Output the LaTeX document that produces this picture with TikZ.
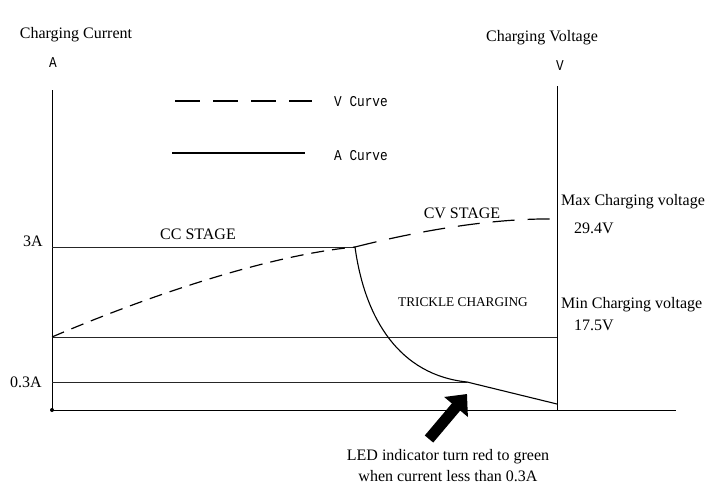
\documentclass[tikz,border=0pt]{standalone}
\usepackage{fontspec}
\setmainfont{Liberation Serif}
\newfontfamily\legendfont[FakeStretch=0.85]{Liberation Mono}
\usetikzlibrary{arrows.meta}
\tikzset{
  axisline/.style={line width=1pt,black},
  gridline/.style={line width=0.8pt,black!85},
  acurve/.style={line width=1.1pt,black},
  vcurve/.style={line width=1.2pt,black,dash pattern=on 13pt off 8pt},
  lbl/.style={inner sep=0pt,font=\fontsize{16}{18}\selectfont},
  small/.style={inner sep=0pt,font=\fontsize{13.3}{15}\selectfont},
  mono/.style={inner sep=0pt,font=\legendfont\fontsize{15}{16}\selectfont},
  bigarrow/.style={line width=11pt,-{Triangle[length=17pt,width=30pt]}}
}
\begin{document}
\begin{tikzpicture}[x=1pt,y=-1pt]
\useasboundingbox (0,0) rectangle (709,487);
% axis coordinates
\coordinate (LT) at (52,90);
\coordinate (O) at (52,410);
\coordinate (BE) at (676,410);
\coordinate (RT) at (557,86);
\coordinate (RB) at (557,410);
\coordinate (L3) at (52,247);
\coordinate (K) at (355,247);
\coordinate (L17) at (52,337);
\coordinate (R17) at (557,337);
\coordinate (L03) at (52,382);
\coordinate (T03) at (467,382);
\coordinate (AE) at (557,404);
\coordinate (VE) at (557,219);
% axes
\draw[axisline] (LT) -- (O) -- (BE);
\draw[axisline] (RT) -- (RB);
\fill (O) circle (2pt);
% levels
\draw[gridline] (L3) -- (K);
\draw[gridline] (L17) -- (R17);
\draw[gridline] (L03) -- (T03);
% V curve
\draw[vcurve] (L17) .. controls (150,295) and (270,255) .. (K);
\draw[vcurve,dash pattern=on 22pt off 13pt] (K) .. controls (430,228) and (500,218) .. (VE);
% A curve
\draw[acurve] (K) .. controls (365,320) and (400,375) .. (T03) -- (AE);
% legend
\coordinate (d1) at (175,101);
\coordinate (d2) at (312,101);
\coordinate (s1) at (172,153);
\coordinate (s2) at (305,153);
\draw[line width=1.3pt,dash pattern=on 25pt off 13pt] (d1) -- (d2);
\draw[line width=1.1pt] (s1) -- (s2);
\node[mono,anchor=west] (vl) at (334,102) {V Curve};
\node[mono,anchor=west] (al) at (334,156) {A Curve};
% axis titles
\node[lbl] (cc) at (76,35) {Charging Current};
\node[mono] (aa) at (53,63) {A};
\node[lbl] (cv) at (542,38) {Charging Voltage};
\node[mono] (vv) at (560,66) {V};
% tick labels
\node[lbl] (t3) at (33,241) {3A};
\node[lbl] (t03) at (26,382) {0.3A};
% stage labels
\node[lbl] (ccs) at (198,234) {CC STAGE};
\node[lbl] (cvs) at (462,213) {CV STAGE};
\node[small] (tc) at (463,302) {TRICKLE CHARGING};
% voltage labels
\node[lbl,anchor=west] (mx) at (561,202) {Max Charging voltage};
\node[lbl,anchor=west] (mxv) at (574,228) {29.4V};
\node[lbl,anchor=west] (mn) at (561,305) {Min Charging voltage};
\node[lbl,anchor=west] (mnv) at (574,325) {17.5V};
% LED note
\node[lbl] (led1) at (448,457) {LED indicator turn red to green};
\node[lbl] (led2) at (448,476) {when current less than 0.3A};
\coordinate (tail) at (429,439);
\coordinate (tip) at (467,394);
\draw[bigarrow] (tail) -- (tip);
\end{tikzpicture}
\end{document}
